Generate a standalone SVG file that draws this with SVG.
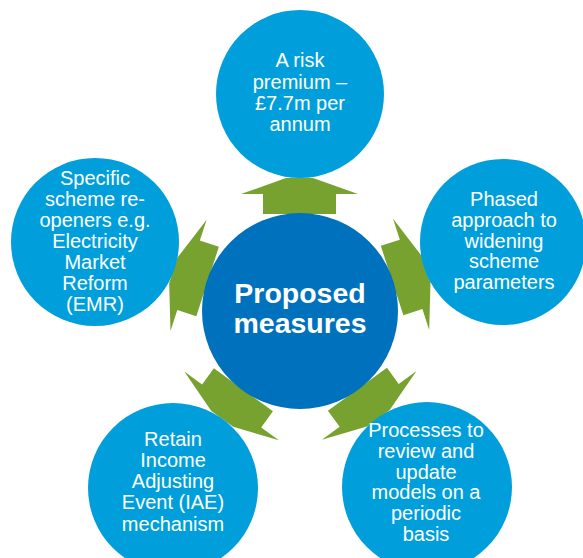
<svg xmlns="http://www.w3.org/2000/svg" width="583" height="558" viewBox="0 0 583 558">
<style>
.outer{fill:#009FDB}
.center{fill:#0071BC}
.arrow{fill:#77A22F}
.t{font-family:"Liberation Sans",Arial,sans-serif;font-size:20px;fill:#fff;text-anchor:middle}
.tc{font-family:"Liberation Sans",Arial,sans-serif;font-size:28.5px;font-weight:bold;fill:#fff;text-anchor:middle}
</style>
<defs>
<polygon id="arr" class="arrow" points="263,214 263,194 241,194 286,178 313,178 358,194 336,194 336,214"/>
</defs>
<rect width="583" height="558" fill="#fff"/>
<g id="connectors">
<use href="#arr"/>
<use href="#arr" transform="rotate(72 300 311)"/>
<use href="#arr" transform="rotate(144 300 311)"/>
<use href="#arr" transform="rotate(-144 300 311)"/>
<use href="#arr" transform="rotate(-72 300 311)"/>
</g>
<g id="center">
<circle class="center" cx="300" cy="311" r="98"/>
<text class="tc" x="300" y="302.5">Proposed</text>
<text class="tc" x="300" y="332.5">measures</text>
</g>
<g id="top">
<circle class="outer" cx="300" cy="94" r="84"/>
<text class="t" x="300" y="67">A risk</text>
<text class="t" x="300" y="89">premium –</text>
<text class="t" x="300" y="110">£7.7m per</text>
<text class="t" x="300" y="131">annum</text>
</g>
<g id="right">
<circle class="outer" cx="503" cy="242" r="83"/>
<text class="t" x="504" y="206">Phased</text>
<text class="t" x="504" y="227">approach to</text>
<text class="t" x="504" y="248">widening</text>
<text class="t" x="504" y="268">scheme</text>
<text class="t" x="504" y="289">parameters</text>
</g>
<g id="bottomright">
<circle class="outer" cx="427" cy="487" r="85"/>
<text class="t" x="426" y="437">Processes to</text>
<text class="t" x="426" y="458">review and</text>
<text class="t" x="426" y="479">update</text>
<text class="t" x="426" y="499">models on a</text>
<text class="t" x="426" y="520">periodic</text>
<text class="t" x="426" y="541">basis</text>
</g>
<g id="bottomleft">
<circle class="outer" cx="173" cy="488" r="85"/>
<text class="t" x="173" y="446">Retain</text>
<text class="t" x="173" y="467">Income</text>
<text class="t" x="173" y="488">Adjusting</text>
<text class="t" x="173" y="509">Event (IAE)</text>
<text class="t" x="173" y="531">mechanism</text>
</g>
<g id="left">
<circle class="outer" cx="95" cy="242" r="84"/>
<text class="t" x="95" y="185">Specific</text>
<text class="t" x="95" y="206">scheme re-</text>
<text class="t" x="95" y="227">openers e.g.</text>
<text class="t" x="95" y="248">Electricity</text>
<text class="t" x="95" y="269">Market</text>
<text class="t" x="95" y="290">Reform</text>
<text class="t" x="95" y="311">(EMR)</text>
</g>
</svg>
